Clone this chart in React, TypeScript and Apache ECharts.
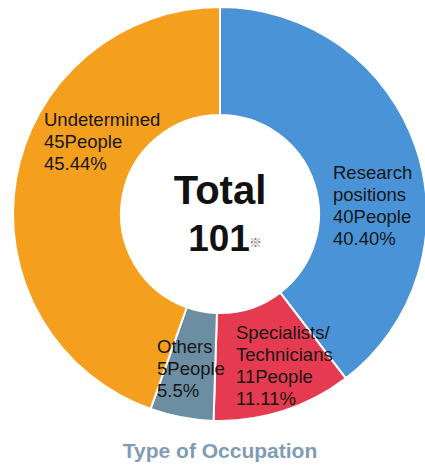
import React, { useEffect, useRef } from "react";
import * as echarts from "echarts";

const categories = ["Research\npositions", "Specialists/\nTechnicians", "Others", "Undetermined"];
const people = [40, 11, 5, 45];
const percentLabels = ["40.40%", "11.11%", "5.5%", "45.44%"];
const colors = ["#4A93D7", "#E63A50", "#6C8EA3", "#F4A01E"];
const totalLabel = "Total";
const totalValue = "101";
const titleText = "Type of Occupation";

// label block anchors (top-left), per slice
const labelAnchors = [
  [333, 161],
  [236, 321],
  [157, 335],
  [44, 108],
];

export default function App() {
  const ref = useRef<HTMLDivElement>(null);
  useEffect(() => {
    document.body.style.margin = "0";
    const chart = echarts.init(ref.current!, null, { renderer: "svg" });
    const font = "'Liberation Sans', Arial, sans-serif";
    chart.setOption({
      animation: false,
      backgroundColor: "#ffffff",
      series: [
        {
          type: "pie",
          center: [220, 214],
          radius: [99, 207],
          startAngle: 90,
          clockwise: true,
          avoidLabelOverlap: false,
          itemStyle: { borderColor: "#ffffff", borderWidth: 2 },
          emphasis: { disabled: true },
          label: {
            show: true,
            position: "inside",
            color: "#161616",
            fontFamily: font,
            fontSize: 18.5,
            lineHeight: 22,
            align: "left",
            formatter: (p: any) =>
              `${p.name}\n${p.value}People\n${percentLabels[p.dataIndex]}`,
          },
          labelLine: { show: false },
          labelLayout: (p: any) => ({
            x: labelAnchors[p.dataIndex][0],
            y: labelAnchors[p.dataIndex][1],
            align: "left",
            verticalAlign: "top",
          }),
          data: categories.map((c, i) => ({
            name: c,
            value: people[i],
            itemStyle: { color: colors[i] },
          })),
        },
      ],
      graphic: [
        {
          type: "text",
          x: 220,
          y: 190,
          style: {
            text: totalLabel,
            fontFamily: font,
            fontWeight: "bold",
            fontSize: 40,
            fill: "#111111",
            align: "center",
            verticalAlign: "middle",
          },
        },
        {
          type: "text",
          x: 219,
          y: 238,
          style: {
            text: totalValue,
            fontFamily: font,
            fontWeight: "bold",
            fontSize: 37,
            fill: "#111111",
            align: "center",
            verticalAlign: "middle",
          },
        },
        {
          type: "text",
          x: 249,
          y: 241,
          style: {
            text: "※",
            fontFamily: "'Noto Sans CJK JP', sans-serif",
            fontSize: 13,
            fill: "#777777",
            align: "left",
            verticalAlign: "middle",
          },
        },
        {
          type: "text",
          x: 220,
          y: 450,
          style: {
            text: titleText,
            fontFamily: font,
            fontWeight: "bold",
            fontSize: 21,
            fill: "#7F9CB4",
            align: "center",
            verticalAlign: "middle",
          },
        },
      ],
    });
    return () => chart.dispose();
  }, []);
  return <div ref={ref} style={{ width: 425, height: 466 }} />;
}
